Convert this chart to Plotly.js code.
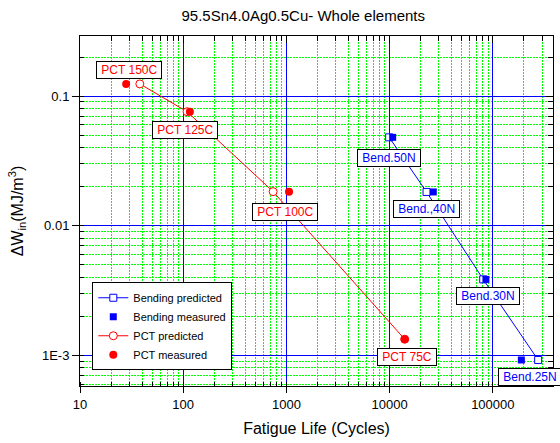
<!DOCTYPE html>
<html>
<head>
<meta charset="utf-8">
<script src="https://cdn.plot.ly/plotly-3.0.1.min.js"></script>
<style>html,body{margin:0;padding:0;background:#fff;}#chart{width:560px;height:443px;}</style>
</head>
<body>
<div id="chart"></div>
<script>
// ---- data ----
const pctLabels = ['PCT 150C', 'PCT 125C', 'PCT 100C', 'PCT 75C'];
const pctPredCycles = [38, 109, 743, 14000];
const pctPredW = [0.124, 0.0757, 0.0183, 0.00133];
const pctMeasCycles = [28, 116, 1060, 14000];
const pctMeasW = [0.124, 0.0757, 0.0183, 0.00133];

const bendLabels = ['Bend.50N', 'Bend.,40N', 'Bend.30N', 'Bend.25N'];
const bendPredCycles = [9900, 22800, 80700, 275000];
const bendPredW = [0.048, 0.0182, 0.00385, 0.00092];
const bendMeasCycles = [10700, 26500, 85700, 189000];
const bendMeasW = [0.048, 0.0182, 0.00385, 0.00092];

const xTickVals = [10, 100, 1000, 10000, 100000];
const xTickText = ['10', '100', '1000', '10000', '100000'];
const yTickVals = [0.001, 0.01, 0.1];
const yTickText = ['1E-3', '0.01', '0.1'];

// ---- styling ----
const FONT = 'Arial, "Liberation Sans", sans-serif';
const RED = '#ff0000', BLUE = '#0000ff';

const traces = [
  {x: bendPredCycles, y: bendPredW, name: 'Bending predicted', mode: 'lines+markers',
   line: {color: BLUE, width: 1},
   marker: {symbol: 'square', size: 7, color: '#ffffff', line: {color: BLUE, width: 1}}},
  {x: bendMeasCycles, y: bendMeasW, name: 'Bending measured', mode: 'markers',
   marker: {symbol: 'square', size: 7, color: BLUE}},
  {x: pctPredCycles, y: pctPredW, name: 'PCT predicted', mode: 'lines+markers',
   line: {color: RED, width: 1},
   marker: {symbol: 'circle', size: 8, color: '#ffffff', line: {color: RED, width: 1}}},
  {x: pctMeasCycles, y: pctMeasW, name: 'PCT measured', mode: 'markers',
   marker: {symbol: 'circle', size: 8, color: RED}}
];

const xr = [1, 5.583];
const yr = [-3.237, -0.537];

// label boxes (positions in log10 units of the axes)
const pctPos = [[1.47, -0.797], [2.019, -1.261], [2.984, -1.892], [4.173, -3.013]];
const bendPos = [[3.991, -1.476], [4.359, -1.875], [4.949, -2.542], [5.36, -3.171]];
const annotations = [];
pctLabels.forEach((t, i) => annotations.push({
  x: pctPos[i][0], y: pctPos[i][1], xref: 'x', yref: 'y', text: '\u00a0' + t + '\u00a0', showarrow: false,
  font: {family: FONT, size: 12, color: RED}, bgcolor: '#ffffff', bordercolor: '#000000', borderwidth: 1, borderpad: 1
}));
bendLabels.forEach((t, i) => annotations.push({
  x: bendPos[i][0], y: bendPos[i][1], xref: 'x', yref: 'y', text: '\u00a0' + t + '\u00a0', showarrow: false,
  font: {family: FONT, size: 12, color: BLUE}, bgcolor: '#ffffff', bordercolor: '#000000', borderwidth: 1, borderpad: 1
}));

const minorGrid = {dtick: 'D1', showgrid: true, gridcolor: '#00ff00', griddash: '2px,1px', gridwidth: 1,
                   ticks: 'inside', ticklen: 4, tickcolor: '#000'};

const layout = {
  width: 560, height: 443,
  margin: {l: 80, r: 7, t: 36, b: 57, pad: 0},
  paper_bgcolor: '#ffffff', plot_bgcolor: '#ffffff',
  font: {family: FONT, size: 13, color: '#000'},
  showlegend: true,
  title: {text: '95.5Sn4.0Ag0.5Cu- Whole elements', font: {family: FONT, size: 15, color: '#000'},
          x: 0.472, xref: 'paper', xanchor: 'center', y: 0.965, yref: 'container', yanchor: 'middle'},
  xaxis: {
    type: 'log', range: xr, autorange: false,
    tickvals: xTickVals, ticktext: xTickText,
    ticks: 'outside', ticklen: 6, tickcolor: '#000', tickfont: {family: FONT, size: 13},
    showgrid: true, gridcolor: BLUE, gridwidth: 1,
    minor: minorGrid,
    showline: true, linecolor: '#000', linewidth: 1, mirror: true, zeroline: false,
    title: {text: 'Fatigue Life (Cycles)', font: {family: FONT, size: 16}, standoff: 12},
    automargin: false
  },
  yaxis: {
    type: 'log', range: yr, autorange: false,
    tickvals: yTickVals, ticktext: yTickText,
    ticks: 'outside', ticklen: 7, tickcolor: '#000', tickfont: {family: FONT, size: 13},
    showgrid: true, gridcolor: BLUE, gridwidth: 1,
    minor: minorGrid,
    showline: true, linecolor: '#000', linewidth: 1, mirror: true, zeroline: false,
    title: {text: '\u0394W<sub>in</sub>(MJ/m<sup>3</sup>)', font: {family: FONT, size: 16}, standoff: 14},
    automargin: false
  },
  xaxis2: {
    type: 'log', range: xr, autorange: false, overlaying: 'x', side: 'top', anchor: 'y',
    tickvals: xTickVals, showticklabels: false, ticks: 'inside', ticklen: 7, tickcolor: '#000',
    showgrid: false, minor: {dtick: 'D1', ticks: 'inside', ticklen: 5, tickcolor: '#000', showgrid: false},
    showline: false, zeroline: false
  },
  yaxis2: {
    type: 'log', range: yr, autorange: false, overlaying: 'y', side: 'right', anchor: 'x',
    tickvals: yTickVals, showticklabels: false, ticks: 'inside', ticklen: 7, tickcolor: '#000',
    showgrid: false, minor: {dtick: 'D1', ticks: 'inside', ticklen: 5, tickcolor: '#000', showgrid: false},
    showline: false, zeroline: false
  },
  legend: {
    x: 0.026, y: 0.045, xanchor: 'left', yanchor: 'bottom', xref: 'paper', yref: 'paper',
    bgcolor: '#ffffff', bordercolor: '#000000', borderwidth: 1,
    font: {family: FONT, size: 11, color: '#000'}, itemwidth: 30, tracegroupgap: 0
  },
  annotations: annotations
};

// invisible helper trace so the top/right tick axes are drawn
traces.push({x: [], y: [], xaxis: 'x2', yaxis: 'y2', showlegend: false, hoverinfo: 'skip', mode: 'markers'});

Plotly.newPlot('chart', traces, layout, {staticPlot: true, displayModeBar: false});
</script>
</body>
</html>
